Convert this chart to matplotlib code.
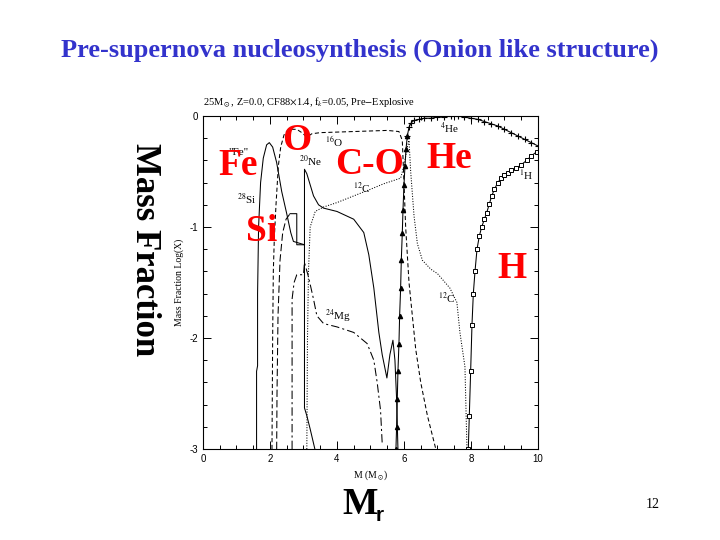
import numpy as np
import matplotlib
matplotlib.use("Agg")
from matplotlib import pyplot as plt

plt.rcParams['font.family'] = ['Liberation Serif', 'DejaVu Serif']
plt.rcParams['mathtext.fontset'] = 'stix'

# curves: mass coordinate M (Msun) and log mass fraction
fe_m = [1.60, 1.60, 1.63, 1.63, 1.66, 1.72, 1.80, 1.90, 1.98, 2.08, 2.20, 2.35, 2.50, 2.62, 2.70, 3.03]
fe_x = [-3.0, -2.30, -2.25, -1.60, -1.00, -0.60, -0.38, -0.26, -0.24, -0.28, -0.42, -0.68, -0.88, -1.05, -1.13, -1.16]

si_m = [2.20, 2.21, 2.24, 2.30, 2.38, 2.48, 2.60]
si_x = [-3.0, -2.50, -1.80, -1.30, -1.05, -0.93, -0.88]
si_step_m = [2.60, 2.80, 2.80, 3.03, 3.03, 3.10, 3.20, 3.34]
si_step_x = [-0.88, -0.88, -1.16, -1.16, -2.63, -2.70, -2.82, -3.0]

o16_m = [2.06, 2.08, 2.10, 2.13, 2.18, 2.25, 2.32, 2.42, 2.55, 2.80, 2.95, 3.10, 3.25, 3.50, 4.50, 5.50,
         5.85, 5.95, 6.00, 6.05, 6.15, 6.25, 6.35, 6.50, 6.70, 6.95]
o16_x = [-3.0, -2.0, -1.4, -1.1, -0.8, -0.45, -0.28, -0.17, -0.12, -0.12, -0.15, -0.19, -0.16, -0.15, -0.14, -0.13,
         -0.14, -0.22, -0.60, -1.00, -1.50, -1.80, -2.10, -2.40, -2.70, -3.0]

ne20_m = [3.03, 3.03, 3.10, 3.20, 3.30, 3.45, 3.60, 4.00, 4.50, 4.80, 4.95, 5.10, 5.25, 5.35, 5.49, 5.58, 5.67, 5.73, 5.78, 5.82]
ne20_x = [-1.16, -0.48, -0.52, -0.62, -0.72, -0.80, -0.83, -0.86, -0.93, -1.05, -1.25, -1.55, -1.95, -2.15, -2.36, -2.15, -2.02, -2.20, -2.55, -3.0]

c12_m = [3.10, 3.12, 3.15, 3.20, 3.35, 3.60, 4.00, 4.50, 5.00, 5.40, 5.90, 6.00, 6.10, 6.15, 6.20, 6.30, 6.40,
         6.55, 6.80, 7.00, 7.37, 7.58, 7.67, 7.82, 7.88]
c12_x = [-3.0, -2.0, -1.4, -1.0, -0.86, -0.82, -0.78, -0.72, -0.66, -0.61, -0.56, -0.45, -0.28, -0.22, -0.50, -0.90, -1.15,
         -1.30, -1.38, -1.42, -1.55, -1.68, -1.95, -2.26, -3.0]

mg24_m = [2.66, 2.66, 2.72, 2.80, 3.00, 3.03, 3.15, 3.30, 3.40, 3.60, 4.00, 4.50, 4.90, 5.10, 5.20, 5.30, 5.35]
mg24_x = [-3.0, -1.65, -1.50, -1.43, -1.43, -1.32, -1.45, -1.65, -1.80, -1.87, -1.90, -1.95, -2.05, -2.20, -2.40, -2.65, -2.95]

he4_m = [5.76, 5.78, 5.80, 5.82, 5.85, 5.87, 5.90, 5.92, 5.95, 5.97, 6.00, 6.03, 6.06, 6.10, 6.15, 6.22, 6.30,
         6.45, 6.60, 6.80, 7.00, 7.20, 7.40, 7.60, 7.80, 8.00, 8.20, 8.40, 8.60, 8.80, 9.00, 9.20, 9.40, 9.60, 9.80, 10.0]
he4_x = [-3.0, -2.8, -2.55, -2.3, -2.05, -1.8, -1.55, -1.3, -1.05, -0.85, -0.62, -0.45, -0.30, -0.18, -0.10, -0.06, -0.04,
         -0.03, -0.02, -0.02, -0.01, -0.01, -0.00, -0.00, -0.01, -0.02, -0.03, -0.05, -0.07, -0.09, -0.12, -0.15, -0.18, -0.21, -0.24, -0.27]

h1_m = [7.92, 7.95, 7.99, 8.03, 8.07, 8.12, 8.18, 8.25, 8.32, 8.40, 8.47, 8.55, 8.62, 8.70, 8.80, 8.90, 9.00,
        9.10, 9.20, 9.35, 9.50, 9.66, 9.80, 9.97]
h1_x = [-3.0, -2.70, -2.30, -1.88, -1.60, -1.40, -1.20, -1.08, -1.00, -0.93, -0.87, -0.79, -0.72, -0.66, -0.60, -0.56, -0.53,
        -0.51, -0.49, -0.47, -0.44, -0.40, -0.36, -0.32]

xticks = [0, 2, 4, 6, 8, 10]
yticks = [0, -1, -2, -3]

fig = plt.figure(figsize=(7.2, 5.4), dpi=100)
ax = fig.add_axes([0.2819, 0.1685, 0.4653, 0.6167])

lw = 0.75
ax.plot(fe_m, fe_x, color='k', lw=lw)
ax.plot(si_m, si_x, color='k', lw=lw, dashes=(7, 3))
ax.plot(si_step_m, si_step_x, color='k', lw=lw)
ax.plot(o16_m, o16_x, color='k', lw=lw, dashes=(4, 2.5))
ax.plot(ne20_m, ne20_x, color='k', lw=lw)
ax.plot(c12_m, c12_x, color='k', lw=lw, ls=(0, (1, 1.5)))
ax.plot(mg24_m, mg24_x, color='k', lw=lw, dashes=(8, 3, 2, 3))
ax.plot(he4_m[:14], he4_x[:14], color='k', lw=lw, marker='^', ms=3, mfc='k')
ax.plot(he4_m[13:], he4_x[13:], color='k', lw=lw, marker='+', ms=4, mew=0.8)
ax.plot(h1_m, h1_x, color='k', lw=lw, marker='s', ms=2.8, mfc='white', mew=0.7)

ax.set_xlim(0, 10)
ax.set_ylim(-3, 0)
ax.set_xticks(xticks)
ax.set_xticks(np.arange(0, 10.01, 0.5), minor=True)
ax.set_yticks(yticks)
ax.set_yticks(np.arange(-3, 0.01, 0.2), minor=True)
ax.set_xticklabels([str(t) for t in xticks], fontsize=7, family='Liberation Sans')
ax.set_yticklabels(['0', '-1', '-2', '-3'], fontsize=7, family='Liberation Sans')
ax.tick_params(which='both', direction='in', top=True, right=True, width=0.7)
ax.tick_params(which='major', length=6)
ax.tick_params(which='minor', length=3)
for s in ax.spines.values():
    s.set_linewidth(0.8)

ax.set_xlabel(r'M (M$_\odot$)', fontsize=7, labelpad=3)
ax.set_ylabel('Mass Fraction Log(X)', fontsize=7, labelpad=4)
ax.set_title(r'25M$_\odot$, Z=0.0, CF88$\times$1.4, f$_k$=0.05, Pre$-$Explosive',
             fontsize=7.5, loc='left', pad=7)

# isotope labels
small = dict(fontsize=8, color='k', ha='center', va='center')
ax.text(3.9, -0.23, r'$^{16}$O', **small)
ax.text(7.35, -0.11, r'$^{4}$He', **small)
ax.text(9.65, -0.53, r'$^{1}$H', **small)
ax.text(3.2, -0.41, r'$^{20}$Ne', **small)
ax.text(4.75, -0.65, r'$^{12}$C', **small)
ax.text(1.31, -0.75, r'$^{28}$Si', **small)
ax.text(1.05, -0.33, '"Fe"', **small)
ax.text(4.03, -1.81, r'$^{24}$Mg', **small)
ax.text(7.28, -1.64, r'$^{12}$C', **small)

# big red shell labels
big = dict(fontsize=27, color='red', fontweight='bold', ha='center', va='center')
ax.text(1.04, -0.45, 'Fe', **big)
ax.text(2.80, -0.22, 'O', **big)
ax.text(4.98, -0.44, 'C-O', **big)
ax.text(7.35, -0.38, 'He', **big)
ax.text(1.76, -1.04, 'Si', **big)
ax.text(9.22, -1.37, 'H', **big)

fig.text(0.5, 0.907, 'Pre-supernova nucleosynthesis (Onion like structure)',
         fontsize=19, fontweight='bold', color='#3333cc', ha='center', va='center')
fig.text(0.2, 0.537, 'Mass Fraction', fontsize=25, fontweight='bold',
         rotation=270, ha='center', va='center')
fig.text(0.5, 0.065, 'M', fontsize=27, fontweight='bold', ha='center', va='center')
fig.text(0.528, 0.045, 'r', fontsize=15, fontweight='bold', family='Liberation Sans',
         ha='center', va='center')
fig.text(0.907, 0.065, '12', fontsize=10, ha='center', va='center')

fig.savefig('out.png', dpi=100)
